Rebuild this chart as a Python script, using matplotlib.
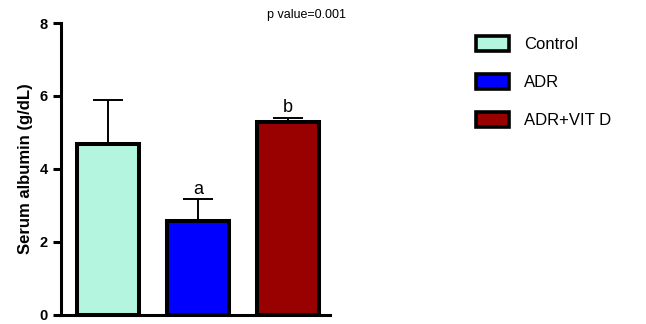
import matplotlib
matplotlib.use("Agg")
import matplotlib.pyplot as plt
from matplotlib.patches import Patch

plt.rcParams['font.family'] = ['Liberation Sans', 'DejaVu Sans']

groups = ['Control', 'ADR', 'ADR+VIT D']
means = [4.68, 2.58, 5.28]
errors = [1.2, 0.6, 0.13]
letters = ['', 'a', 'b']
colors = ['#b3f5df', '#0000ff', '#990000']
yticks = [0, 2, 4, 6, 8]

fig = plt.figure(figsize=(6.46, 3.24), dpi=100)
ax = fig.add_axes([0.0944, 0.028, 0.4166, 0.901])

x = list(range(len(groups)))
ax.bar(x, means, width=0.69, color=colors, edgecolor='black', linewidth=2.9, zorder=3)
ax.errorbar(x, means, yerr=[[0] * 3, errors], fmt='none', ecolor='black',
            elinewidth=1.4, capsize=11, capthick=1.4, zorder=2)
for xi, m, e, l in zip(x, means, errors, letters):
    if l:
        ax.text(xi, m + e + 0.03, l, ha='center', va='bottom', fontsize=13)

ax.set_xlim(-0.522, 2.467)
ax.set_ylim(0, 8)
ax.set_yticks(yticks)
ax.set_xticks([])
for s in ['top', 'right']:
    ax.spines[s].set_visible(False)
ax.spines['left'].set_linewidth(2.2)
ax.spines['bottom'].set_linewidth(2.2)
ax.tick_params(axis='y', width=2.2, length=6, labelsize=10.5)
for t in ax.get_yticklabels():
    t.set_fontweight('bold')
ax.set_ylabel('Serum albumin (g/dL)', fontsize=12, fontweight='bold', labelpad=5)

fig.text(0.474, 0.953, 'p value=0.001', ha='center', va='center', fontsize=9)

handles = [Patch(facecolor=c, edgecolor='black', linewidth=2.6) for c in colors]
fig.legend(handles, groups, loc='upper left', bbox_to_anchor=(0.713, 0.935),
           frameon=False, fontsize=12, handlelength=2.0, handleheight=1.0,
           labelspacing=1.3, handletextpad=0.9)

fig.savefig('out.png', dpi=100)
